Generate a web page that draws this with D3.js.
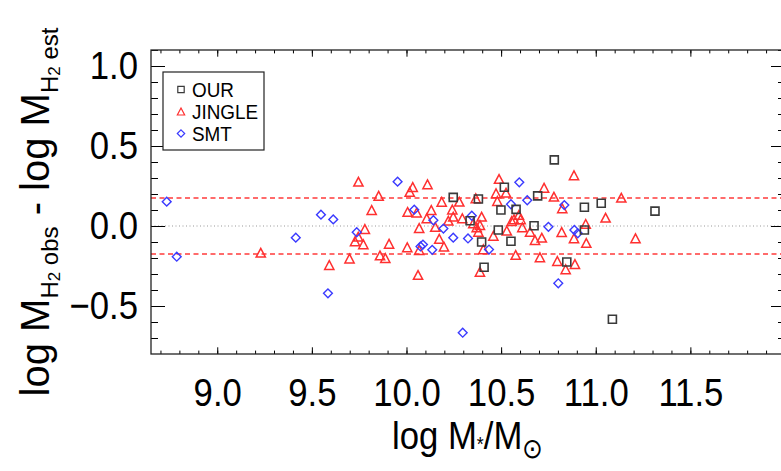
<!DOCTYPE html>
<html>
<head>
<meta charset="utf-8">
<script src="https://cdn.jsdelivr.net/npm/d3@7"></script>
<style>
body { margin: 0; background: #fff; }
svg text { font-family: "Liberation Sans", Arial, sans-serif; fill: #000; }
</style>
</head>
<body>
<svg width="781" height="471"></svg>
<script>
// axis ticks
var xTicks = [9.0, 9.5, 10.0, 10.5, 11.0, 11.5]
var yTicks = [-0.5, 0.0, 0.5, 1.0]
var scatterBand = 0.175

// OUR sample (squares)
var ourX = [10.247, 10.380, 10.517, 10.499, 10.579, 10.693, 10.336, 10.485, 10.674, 10.397,
            10.552, 10.410, 10.781, 10.940, 11.029, 11.313, 10.940, 10.847, 11.088]
var ourY = [0.179, 0.169, 0.242, 0.100, 0.104, 0.188, 0.033, -0.025, 0.002, -0.100,
            -0.095, -0.258, 0.413, 0.117, 0.142, 0.093, -0.025, -0.225, -0.583]

// JINGLE (triangles)
var jingleX = [9.230, 9.592, 9.699, 9.746, 10.033, 10.017, 10.111, 9.853, 10.186, 9.816,
               10.006, 10.054, 10.131, 10.242, 10.107, 10.247, 10.221, 9.780, 10.067, 10.152,
               9.745, 9.728, 9.772, 9.908, 10.173, 10.004, 10.198, 10.067, 9.860, 9.888,
               10.061, 10.489, 10.727, 10.473, 10.526, 10.279, 10.366, 10.480, 10.295, 10.397,
               10.353, 10.556, 10.568, 10.594, 10.603, 10.388, 10.371, 10.530, 10.612, 10.653,
               10.380, 10.459, 10.679, 10.715, 10.406, 10.388, 10.577, 10.705, 10.885, 10.779,
               10.823, 11.135, 11.052, 10.947, 10.820, 10.885, 10.950, 11.210, 10.797, 10.890,
               10.841]
var jingleY = [-0.167, -0.244, -0.203, 0.277, 0.243, 0.213, 0.261, 0.189, 0.151, 0.100,
               0.088, 0.084, 0.100, 0.103, 0.048, 0.058, 0.033, -0.019, -0.013, -0.006,
               -0.067, -0.096, -0.114, -0.111, -0.080, -0.133, -0.129, -0.150, -0.184, -0.200,
               -0.306, 0.294, 0.239, 0.204, 0.208, 0.152, 0.173, 0.156, 0.048, 0.058,
               0.017, 0.031, 0.042, 0.069, 0.042, 0.006, -0.008, -0.029, -0.008, -0.036,
               -0.036, -0.061, -0.088, -0.073, -0.146, -0.286, -0.181, -0.196, 0.317, 0.183,
               0.111, 0.177, 0.052, 0.013, -0.038, -0.077, -0.106, -0.077, -0.219, -0.238,
               -0.271]

// SMT (diamonds)
var smtX = [8.733, 8.786, 9.415, 9.548, 9.613, 9.585, 9.737, 9.953, 10.041, 10.142,
            10.195, 10.074, 10.087, 10.136, 10.247, 10.325, 10.297, 10.345, 10.436, 10.552,
            10.596, 10.638, 10.750, 10.834, 10.887, 10.905, 10.802]
var smtY = [0.152, -0.192, -0.073, 0.071, 0.041, -0.421, -0.039, 0.277, 0.102, 0.036,
            -0.016, -0.128, -0.116, -0.149, -0.073, -0.078, -0.667, 0.064, -0.147, 0.136,
            0.273, 0.161, -0.005, 0.131, -0.025, -0.046, -0.358]

var svg = d3.select("svg")
var pl = 151, pr = 785, pt = 50, pb = 354

var x = d3.scaleLinear().domain([8.65, 12.0]).range([pl, pr])
var y = d3.scaleLinear().domain([-0.8, 1.1]).range([pb, pt])

function minor(lo, hi, step) {
	var out = []
	for (var v = lo; v <= hi + 1e-9; v += step) out.push(+v.toFixed(2))
	return out
}
var xMinor = minor(8.7, 12.0, 0.1)
var yMinor = minor(-0.7, 1.1, 0.1)

var squareP = function(s) { return "M" + (-s) + "," + (-s) + "H" + s + "V" + s + "H" + (-s) + "Z" }
var triP = function(s) { return "M0," + (-s) + "L" + (s * 1.05) + "," + s + "L" + (-s * 1.05) + "," + s + "Z" }
var diaP = function(s) { return "M0," + (-s) + "L" + s + ",0L0," + s + "L" + (-s) + ",0Z" }

// reference lines
svg.append("line")
	.attr("x1", pl).attr("x2", pr).attr("y1", y(0)).attr("y2", y(0))
	.attr("stroke", "#999").attr("stroke-width", 1).attr("stroke-dasharray", "1,2.5")
;[scatterBand, -scatterBand].forEach(function(v) {
	svg.append("line")
		.attr("x1", pl).attr("x2", pr).attr("y1", y(v)).attr("y2", y(v))
		.attr("stroke", "#ff3b3b").attr("stroke-width", 1.5).attr("stroke-dasharray", "5,3.5")
})

// points
function plotSet(xs, ys, shape, color, width) {
	svg.append("g").selectAll("path")
		.data(xs)
		.enter().append("path")
		.attr("transform", function(d, i) { return "translate(" + x(d) + "," + y(ys[i]) + ")" })
		.attr("d", shape)
		.attr("fill", "none")
		.attr("stroke", color)
		.attr("stroke-width", width)
}
plotSet(jingleX, jingleY, triP(4.4), "#ff3030", 1.5)
plotSet(smtX, smtY, diaP(4.4), "#3a3aff", 1.4)
plotSet(ourX, ourY, squareP(4), "#3a3a3a", 1.6)

// axes
function styleAxis(g) {
	g.select(".domain").remove()
	g.selectAll("line").attr("stroke", "#000").attr("stroke-width", 1)
}
function condense(sel, origin) {
	sel.attr("font-size", 39)
		.attr("font-family", '"Liberation Sans", Arial, sans-serif')
		.attr("fill", "#000")
		.style("transform-box", "fill-box")
		.style("transform-origin", origin)
		.style("transform", "scaleX(0.89)")
}

svg.append("g").attr("transform", "translate(0," + pb + ")")
	.call(d3.axisBottom(x).tickValues(xMinor).tickSize(-3.4).tickFormat(""))
	.call(styleAxis)
svg.append("g").attr("transform", "translate(0," + pt + ")")
	.call(d3.axisTop(x).tickValues(xMinor).tickSize(-3.4).tickFormat(""))
	.call(styleAxis)
svg.append("g").attr("transform", "translate(0," + pt + ")")
	.call(d3.axisTop(x).tickValues(xTicks).tickSize(-6.7).tickFormat(""))
	.call(styleAxis)
var xa = svg.append("g").attr("transform", "translate(0," + pb + ")")
	.call(d3.axisBottom(x).tickValues(xTicks).tickSize(-6.7).tickPadding(24).tickFormat(d3.format(".1f")))
	.call(styleAxis)
condense(xa.selectAll("text"), "center top")

svg.append("g").attr("transform", "translate(" + pl + ",0)")
	.call(d3.axisLeft(y).tickValues(yMinor).tickSize(-7).tickFormat(""))
	.call(styleAxis)
svg.append("g").attr("transform", "translate(" + pr + ",0)")
	.call(d3.axisRight(y).tickValues(yMinor).tickSize(-7).tickFormat(""))
	.call(styleAxis)
svg.append("g").attr("transform", "translate(" + pr + ",0)")
	.call(d3.axisRight(y).tickValues(yTicks).tickSize(-14).tickFormat(""))
	.call(styleAxis)
var ya = svg.append("g").attr("transform", "translate(" + pl + ",0)")
	.call(d3.axisLeft(y).tickValues(yTicks).tickSize(-14).tickPadding(13).tickFormat(d3.format(".1f")))
	.call(styleAxis)
condense(ya.selectAll("text"), "right center")

// frame
svg.append("rect")
	.attr("x", pl).attr("y", pt).attr("width", pr - pl).attr("height", pb - pt)
	.attr("fill", "none").attr("stroke", "#222").attr("stroke-width", 1.3)

// axis titles
var xt = svg.append("text").attr("x", 468).attr("y", 449).attr("text-anchor", "middle").attr("font-size", 39)
xt.append("tspan").text("log M")
xt.append("tspan").attr("font-size", 20).attr("dy", 2).text("*")
xt.append("tspan").attr("dy", -2).text("/M")
xt.append("tspan").attr("font-size", 28).attr("dy", 9).text("\u2299")
condense(xt, "center center")

var yt = svg.append("text").attr("transform", "translate(49,212) rotate(-90)")
	.attr("text-anchor", "middle").attr("font-size", 40)
yt.append("tspan").text("log M")
yt.append("tspan").attr("font-size", 24).attr("dy", 9).text("H")
yt.append("tspan").attr("font-size", 17).attr("dy", 2).text("2")
yt.append("tspan").attr("font-size", 24).attr("dy", -2).text(" obs")
yt.append("tspan").attr("dy", -9).text(" - log M")
yt.append("tspan").attr("font-size", 24).attr("dy", 9).text("H")
yt.append("tspan").attr("font-size", 17).attr("dy", 2).text("2")
yt.append("tspan").attr("font-size", 24).attr("dy", -2).text(" est")

// legend
var names = ["OUR", "JINGLE", "SMT"]
var shapes = [squareP(3.2), triP(3.5), diaP(3.7)]
var colors = ["#3a3a3a", "#ff3030", "#3a3aff"]
var lg = svg.append("g")
lg.append("rect").attr("x", 163).attr("y", 72).attr("width", 101).attr("height", 78)
	.attr("fill", "#fff").attr("stroke", "#222").attr("stroke-width", 1.2)
for (var i = 0; i < 3; i++) {
	var ly = 89.5 + i * 22
	lg.append("path").attr("transform", "translate(181," + ly + ")").attr("d", shapes[i])
		.attr("fill", "none").attr("stroke", colors[i]).attr("stroke-width", 1.2)
	var t = lg.append("text").attr("x", 192).attr("y", ly).attr("dy", "0.36em")
		.attr("font-size", 21).text(names[i])
	t.style("transform-box", "fill-box").style("transform-origin", "left center").style("transform", "scaleX(0.9)")
}
</script>
</body>
</html>
